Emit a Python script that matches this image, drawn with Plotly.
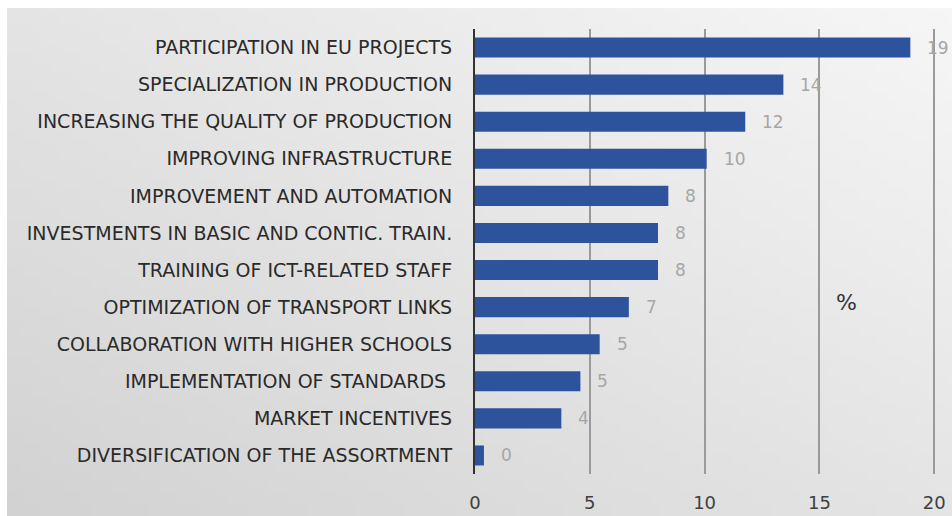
import base64
import struct
import zlib

import plotly.graph_objects as go

categories = [
    "PARTICIPATION IN EU PROJECTS",
    "SPECIALIZATION IN PRODUCTION",
    "INCREASING THE QUALITY OF PRODUCTION",
    "IMPROVING INFRASTRUCTURE",
    "IMPROVEMENT AND AUTOMATION",
    "INVESTMENTS IN BASIC AND CONTIC. TRAIN.",
    "TRAINING OF ICT-RELATED STAFF",
    "OPTIMIZATION OF TRANSPORT LINKS",
    "COLLABORATION WITH HIGHER SCHOOLS",
    "IMPLEMENTATION OF STANDARDS ",
    "MARKET INCENTIVES",
    "DIVERSIFICATION OF THE ASSORTMENT",
]
values = [18.96, 13.43, 11.77, 10.09, 8.42, 7.97, 7.97, 6.70, 5.43, 4.59, 3.76, 0.39]
value_labels = ["19", "14", "12", "10", "8", "8", "8", "7", "5", "5", "4", "0"]
x_ticks = [0, 5, 10, 15, 20]

FONT = "DejaVu Sans"


def gradient_png(w, h, dark, light):
    """Small grayscale PNG: diagonal gradient, light at top-right, dark at bottom-left."""
    rows = []
    for j in range(h):
        row = bytearray([0])
        for i in range(w):
            t = (i / (w - 1) + (1 - j / (h - 1))) / 2.0
            row.append(int(round(dark + (light - dark) * t)))
        rows.append(bytes(row))
    raw = b"".join(rows)

    def chunk(tag, data):
        c = tag + data
        return struct.pack(">I", len(data)) + c + struct.pack(">I", zlib.crc32(c) & 0xFFFFFFFF)

    png = b"\x89PNG\r\n\x1a\n"
    png += chunk(b"IHDR", struct.pack(">IIBBBBB", w, h, 8, 0, 0, 0, 0))
    png += chunk(b"IDAT", zlib.compress(raw, 9))
    png += chunk(b"IEND", b"")
    return "data:image/png;base64," + base64.b64encode(png).decode()


fig = go.Figure()
fig.add_trace(go.Bar(
    x=values, y=categories, orientation="h",
    marker=dict(color="#2D539C", line=dict(width=0)),
    hoverinfo="skip",
))

for v, lab, cat in zip(values, value_labels, categories):
    fig.add_annotation(x=v, y=cat, text=lab, showarrow=False, xanchor="left",
                       xshift=15, font=dict(family=FONT, size=17, color="#a6a6a6"))

fig.add_annotation(x=16.2, y=0.385, yref="paper", text="%", showarrow=False,
                   font=dict(family=FONT, size=22, color="#333333"))

# background panel (gradient)
x0p, x1p, y0p, y1p = -0.9894, 1.0085, -0.0944, 1.0472
fig.add_layout_image(source=gradient_png(96, 52, 210, 246), xref="paper", yref="paper",
                     x=x0p, y=y1p, sizex=x1p - x0p, sizey=y1p - y0p, sizing="stretch",
                     xanchor="left", yanchor="top", layer="below")

fig.update_layout(
    width=952, height=516,
    margin=dict(l=475, r=4, t=29, b=42, autoexpand=False),
    paper_bgcolor="white",
    plot_bgcolor="rgba(0,0,0,0)",
    bargap=0.46,
    showlegend=False,
    font=dict(family=FONT),
)
fig.update_xaxes(range=[0, 20.6], tickvals=x_ticks, showgrid=True, gridcolor="#9a9a9a", gridwidth=1.5,
                 zeroline=False, showline=False, ticks="", ticklabelstandoff=16,
                 tickfont=dict(family=FONT, size=18, color="#404040"), fixedrange=True)
fig.update_yaxes(autorange="reversed", showline=True, linecolor="#333333", linewidth=2,
                 showgrid=False, ticks="", ticklabelstandoff=17,
                 tickfont=dict(family=FONT, size=19, color="#2a2a2a"), fixedrange=True)

fig.write_html("out.html")
